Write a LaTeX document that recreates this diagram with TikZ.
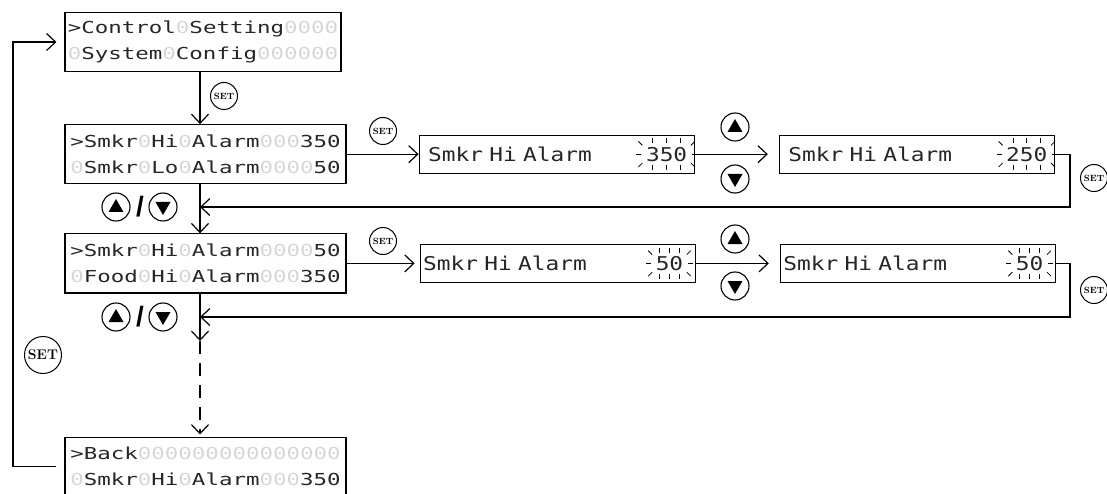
\documentclass[tikz,border=0pt]{standalone}
\usepackage{fontspec}
\usepackage{xcolor}
\usepackage{tikz}
\usetikzlibrary{arrows.meta,positioning,calc}

\newfontfamily\lcdfont[FakeStretch=1.36]{DejaVu Sans Mono}
\newfontfamily\lcdbigfont[FakeStretch=1.2]{DejaVu Sans Mono}
\newfontfamily\slashfont{Liberation Sans}
\definecolor{ghost}{gray}{0.84}
\definecolor{ink}{gray}{0.15}
\newcommand{\gh}[1]{\textcolor{ghost}{#1}}
\newcommand{\blink}[1]{%
  \foreach \f in {0.2,0.5,0.8}{%
    \draw[tick] ($(#1.north west)!\f!(#1.north east)$) -- ++(0,-5);
    \draw[tick] ($(#1.south west)!\f!(#1.south east)$) -- ++(0,5);}
  \draw[tick] ([xshift=-2pt]#1.west) -- ++(-5,0);
  \draw[tick] ([xshift=2pt]#1.east) -- ++(5,0);
  \draw[tick] ([shift={(-1,2)}]#1.north west) -- ++(-4,-4);
  \draw[tick] ([shift={(-1,-2)}]#1.south west) -- ++(-4,4);
  \draw[tick] ([shift={(1,2)}]#1.north east) -- ++(4,-4);
  \draw[tick] ([shift={(1,-2)}]#1.south east) -- ++(4,4);}

\begin{document}
\begin{tikzpicture}[
    x=1pt, y=-1pt, line width=1.2pt,
    lcd/.style={draw, align=left, minimum width=281pt, minimum height=59pt, text=ink,
                inner sep=0pt, font={\lcdfont\fontsize{16.5}{26}\selectfont}},
    screen/.style={draw, align=left, minimum height=38pt, text width=257pt, text=ink,
                inner xsep=9pt, inner ysep=0pt, font={\lcdbigfont\fontsize{19}{19}\selectfont}},
    val/.style={inner xsep=2pt, inner ysep=3pt, text=ink,
                font={\lcdbigfont\fontsize{19}{19}\selectfont}},
    tick/.style={line width=0.8pt},
    arrow/.style={-{Straight Barb[length=9pt,width=17pt]}},
    setbtn/.style={circle, draw, line width=1pt, inner sep=0pt, minimum size=27pt,
                font=\bfseries\fontsize{9}{9}\selectfont},
    btn/.style={circle, draw, line width=1.1pt, inner sep=0pt, minimum size=28pt},
    upbtn/.style={btn, path picture={\fill ($(path picture bounding box.center)+(0,-8)$)
                -- ++(7.5,13) -- ++(-15,0) -- cycle;}},
    downbtn/.style={btn, path picture={\fill ($(path picture bounding box.center)+(0,8)$)
                -- ++(7.5,-13) -- ++(-15,0) -- cycle;}},
    slash/.style={font=\slashfont\bfseries\fontsize{28}{28}\selectfont, inner sep=0pt}
]
\useasboundingbox (0,0) rectangle (1107,494);

\node[lcd, minimum width=276pt] (b1) at (203,42)
  {>Control\gh{0}Setting\gh{0000}\\\gh{0}System\gh{0}Config\gh{000000}};
\node[lcd, below=52pt of b1.south west, anchor=north west] (b2)
  {>Smkr\gh{0}Hi\gh{0}Alarm\gh{000}350\\\gh{0}Smkr\gh{0}Lo\gh{0}Alarm\gh{0000}50};
\node[lcd, below=49pt of b2] (b3)
  {>Smkr\gh{0}Hi\gh{0}Alarm\gh{0000}50\\\gh{0}Food\gh{0}Hi\gh{0}Alarm\gh{000}350};
\node[lcd, below=143pt of b3] (b4)
  {>Back\gh{000000000000000}\\\gh{0}Smkr\gh{0}Hi\gh{0}Alarm\gh{000}350};

\node[screen, right=72pt of b2] (s1) {Smkr Hi Alarm};
\node[screen, right=84pt of s1] (s2) {Smkr Hi Alarm};
\node[screen, inner xsep=3pt, text width=269pt, right=73pt of b3] (s3) {Smkr Hi Alarm};
\node[screen, inner xsep=3pt, text width=269pt, right=84pt of s3] (s4) {Smkr Hi Alarm};

\node[val, left=5pt of s1.east] (v1) {350};
\node[val, left=5pt of s2.east] (v2) {250};
\node[val, left=10pt of s3.east] (v3) {50};
\node[val, left=10pt of s4.east] (v4) {50};
\blink{v1}
\blink{v2}
\blink{v3}
\blink{v4}

\node[setbtn] (set1) at (224,96) {SET};
\node[setbtn] (set2) at (383,131) {SET};
\node[setbtn] (set3) at (1094,178) {SET};
\node[setbtn] (set4) at (383,241) {SET};
\node[setbtn] (set5) at (1094,290) {SET};
\node[setbtn, minimum size=37pt, font=\bfseries\fontsize{14}{14}\selectfont] (set6) at (43,355) {SET};

\node[upbtn] (u1) at (116,207) {};
\node[slash] (sl1) at (140,207) {/};
\node[downbtn] (dn1) at (163,207) {};
\node[upbtn] (u2) at (116,317) {};
\node[slash] (sl2) at (140,317) {/};
\node[downbtn] (dn2) at (163,317) {};
\node[upbtn] (u3) at (735,127) {};
\node[downbtn] (dn3) at (735,179) {};
\node[upbtn] (u4) at (735,239) {};
\node[downbtn] (dn4) at (735,286) {};

\coordinate (sp) at (200,0);
\coordinate (lx) at (13,0);
\coordinate (rx) at (1070,0);
\coordinate (j1) at (200,207);
\coordinate (j2) at (200,317);
\coordinate (d1) at (200,341);

\draw[arrow] (b1.south -| sp) -- (b2.north -| sp);
\draw[arrow] (b2.south -| sp) -- (b3.north -| sp);
\draw[arrow] (b3.south -| sp) -- (d1);
\draw[arrow, dash pattern=on 13pt off 9pt, shorten >=2pt] (d1) -- (b4.north -| sp);
\draw[arrow, shorten <=8pt, shorten >=8pt] (b4.west) -- (b4.west -| lx) |- (b1.west);
\draw[arrow] (b2.east) -- (s1.west);
\draw[arrow, shorten >=11pt] (s1.east) -- (s2.west);
\draw[arrow] (s2.east) -- (s2.east -| rx) |- (j1);
\draw[arrow, shorten >=5pt] (b3.east) -- (s3.west);
\draw[arrow, shorten >=11pt] (s3.east) -- (s4.west);
\draw[arrow] (s4.east) -- (s4.east -| rx) |- (j2);
\end{tikzpicture}
\end{document}
